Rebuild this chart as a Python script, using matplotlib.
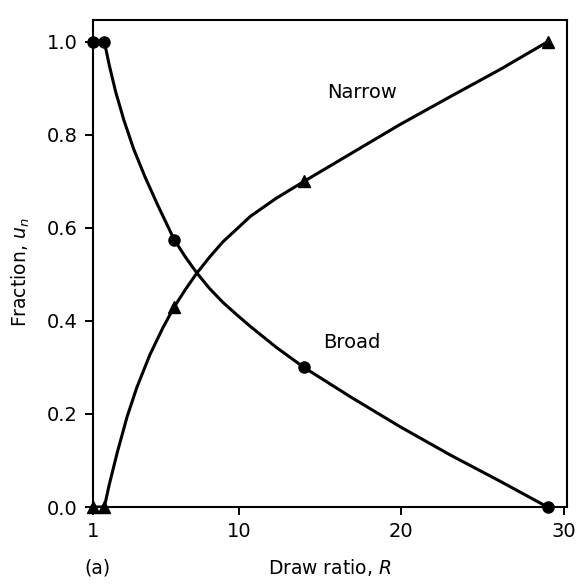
import matplotlib
matplotlib.use("Agg")
import matplotlib.pyplot as plt

plt.rcParams['font.family'] = ['DejaVu Sans']
plt.rcParams['mathtext.fontset'] = 'custom'
plt.rcParams['mathtext.it'] = 'DejaVu Sans:italic'
plt.rcParams['mathtext.rm'] = 'DejaVu Sans'

# measured points (draw ratio vs. fraction)
R_pts = [1.0, 1.7, 6.0, 14.0, 29.0]
broad_pts = [1.0, 1.0, 0.575, 0.30, 0.0]
narrow_pts = [0.0, 0.0, 0.43, 0.70, 1.0]

# hand-drawn smooth curves through the points
R_broad = [1.0, 1.7, 2.0, 2.4, 2.9, 3.5, 4.2, 5.0, 6.0, 6.7, 7.4, 8.2, 9.0, 9.9, 10.7,
           12.3, 14.0, 16.9, 19.9, 23.0, 26.1, 29.0]
broad_curve = [1.0, 1.0, 0.950, 0.892, 0.832, 0.770, 0.710, 0.648, 0.575, 0.537, 0.503, 0.469,
               0.440, 0.412, 0.388, 0.343, 0.30, 0.236, 0.173, 0.112, 0.055, 0.0]
R_narrow = [1.0, 1.7, 2.0, 2.5, 3.1, 3.7, 4.5, 5.3, 6.0, 6.7, 7.4, 8.2, 9.0, 9.9, 10.7,
            12.3, 14.0, 16.9, 19.9, 23.0, 26.1, 29.0]
narrow_curve = [0.0, 0.0, 0.048, 0.118, 0.194, 0.257, 0.327, 0.385, 0.43, 0.468, 0.503, 0.538,
                0.570, 0.599, 0.625, 0.664, 0.70, 0.760, 0.822, 0.882, 0.941, 1.0]

x_ticks = [1, 10, 20, 30]
y_ticks = [0.0, 0.2, 0.4, 0.6, 0.8, 1.0]

fig = plt.figure(figsize=(5.82, 5.86), dpi=100)
ax = fig.add_axes([0.1598, 0.1348, 0.8144, 0.8311])

ax.plot(R_broad, broad_curve, color='black', lw=2.2, solid_capstyle='round',
        solid_joinstyle='round')
ax.plot(R_narrow, narrow_curve, color='black', lw=2.2, solid_capstyle='round',
        solid_joinstyle='round')
ax.plot(R_pts, broad_pts, 'o', color='black', ms=8, clip_on=False)
ax.plot(R_pts, narrow_pts, '^', color='black', ms=8, clip_on=False)

ax.text(17.59, 0.891, 'Narrow', fontsize=14, ha='center', va='center')
ax.text(16.97, 0.353, 'Broad', fontsize=14, ha='center', va='center')

ax.set_xlim(1.0, 30.2)
ax.set_ylim(0, 1.047)
ax.set_xticks(x_ticks)
ax.set_xticklabels([str(t) for t in x_ticks])
ax.set_yticks(y_ticks)
ax.set_yticklabels(['%.1f' % t for t in y_ticks])
ax.tick_params(axis='both', direction='out', length=6, width=1.4, labelsize=14, pad=5)

for s in ax.spines.values():
    s.set_linewidth(1.5)

fig.text(0.036, 0.536, r'Fraction, $u_n$', rotation=90, fontsize=13.5,
         ha='center', va='center')
fig.text(0.567, 0.031, r'Draw ratio, $R$', fontsize=13.5, ha='center', va='center')
fig.text(0.167, 0.031, '(a)', fontsize=13.5, ha='center', va='center')

fig.savefig('out.png', dpi=100)
